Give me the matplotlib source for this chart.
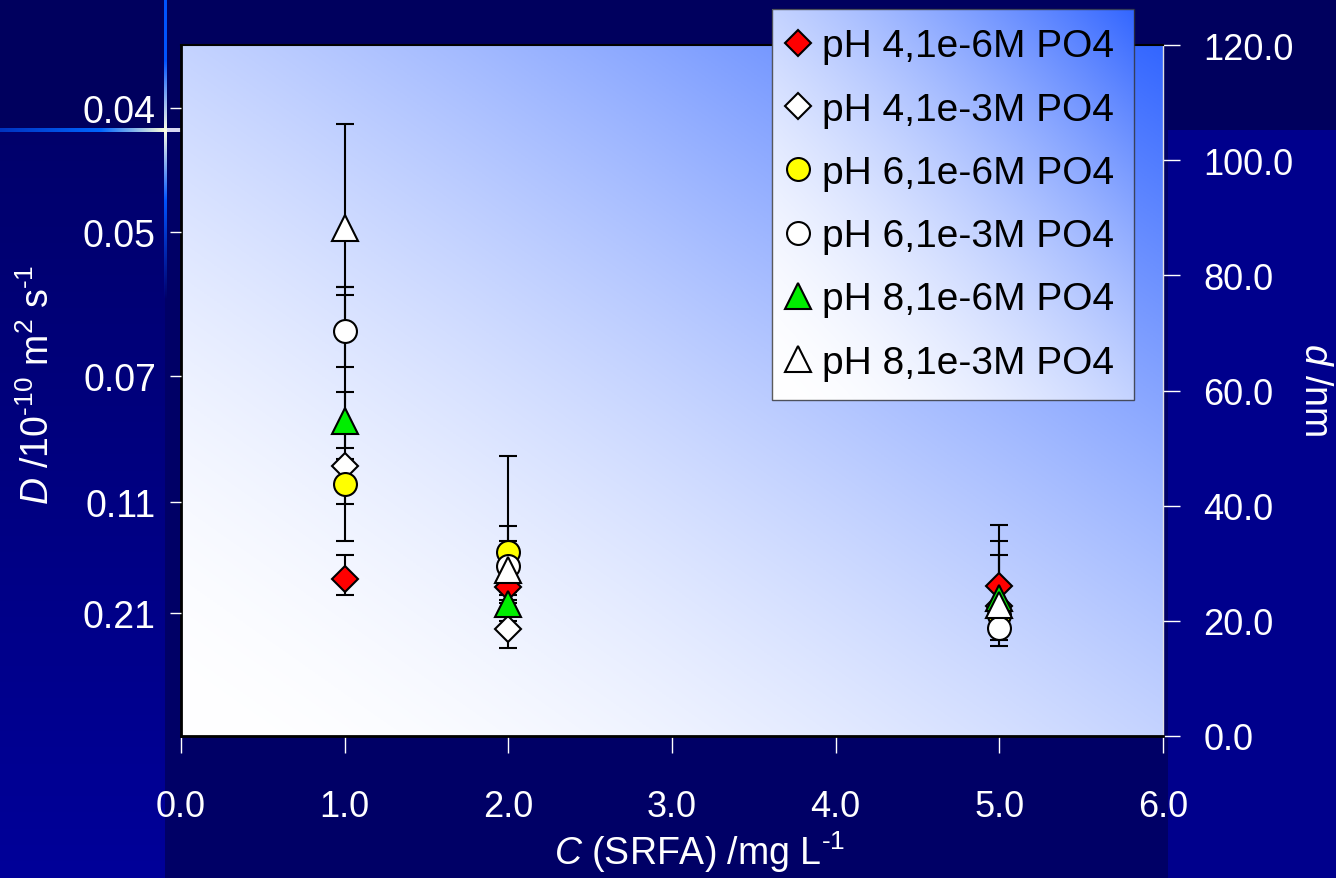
import numpy as np
import matplotlib
matplotlib.use('Agg')
import matplotlib.pyplot as plt
from matplotlib.colors import to_rgb

plt.rcParams['font.family'] = ['Liberation Sans', 'DejaVu Sans']
plt.rcParams['mathtext.fontset'] = 'custom'
plt.rcParams['mathtext.rm'] = 'Liberation Sans'
plt.rcParams['mathtext.it'] = 'Liberation Sans:italic'

# ---- data (d in nm) ----
conc = [1.0, 2.0, 5.0]
labels = ['pH 4,1e-6M PO4', 'pH 4,1e-3M PO4', 'pH 6,1e-6M PO4',
          'pH 6,1e-3M PO4', 'pH 8,1e-6M PO4', 'pH 8,1e-3M PO4']
d_mean = [[27.3, 25.8, 26.0],
          [46.9, 18.5, 22.5],
          [43.8, 31.9, 21.0],
          [70.3, 29.6, 18.7],
          [54.7, 23.0, 24.0],
          [88.3, 28.9, 22.8]]
d_low = [[24.5, 23.1, 22.0],
         [33.8, 15.2, 16.6],
         [40.3, 30.0, 19.0],
         [64.0, 24.5, 15.7],
         [50.1, 21.0, 17.8],
         [77.9, 20.0, 19.5]]
d_high = [[31.4, 29.0, 31.4],
          [76.5, 23.6, 33.8],
          [48.1, 33.8, 23.5],
          [77.9, 36.5, 22.0],
          [59.8, 25.0, 36.6],
          [106.3, 48.7, 26.5]]
x_ticks = [0, 1, 2, 3, 4, 5, 6]
d_ticks = [0, 20, 40, 60, 80, 100, 120]
D_labels = ['0.04', '0.05', '0.07', '0.11', '0.21']
D_tick_pos = [109.1, 87.5, 62.5, 40.6, 21.4]

markers = ['D', 'D', 'o', 'o', '^', '^']
msizes = [13.5, 13.5, 16.5, 16.5, 19, 19]
colors = ['#FF0000', '#FFFFFF', '#FFFF00', '#FFFFFF', '#00EE00', '#FFFFFF']

W, H = 1336, 879
fig = plt.figure(figsize=(W / 100, H / 100), dpi=100)


def gradient(nx=300, ny=300):
    xx, yy = np.meshgrid(np.linspace(0, 1, nx), np.linspace(0, 1, ny))
    t = ((xx + yy) / 2) ** 1.8
    c0 = np.array([1.0, 1.0, 1.0])
    c1 = np.array(to_rgb('#3366FF'))
    return c0 + (c1 - c0) * t[..., None]


# slide background with the little cross ornament
bg = np.zeros((H, W, 3))
bg[..., 2] = 0.40
bg[:131, :, 2] = 0.37
bg[131:, :165, 2] = np.linspace(0.42, 0.60, H - 131)[:, None]
bg[131:, 1168:, 2] = 0.55
for x in range(0, 183):
    if x < 100:
        c = np.array([0, 0.2, 0.75]) + (np.array([0, 0.4, 1.0]) - np.array([0, 0.2, 0.75])) * x / 100
    elif x <= 165:
        f = (x - 100) / 65
        c = np.array([0, 0.4, 1.0]) + (np.array([1, 1, 0.85]) - np.array([0, 0.4, 1.0])) * f
    else:
        c = np.array([0.85, 0.85, 0.95])
    bg[129:133, x] = c
for y in range(0, 300):
    dist = abs(y - 131)
    blue = np.array([0, 0.33, 1.0])
    if dist < 70:
        c = np.array([1, 1, 0.9]) + (blue - np.array([1, 1, 0.9])) * dist / 70
    else:
        c = blue
    a = 1.0 if y < 200 else max(0.0, 1 - (y - 200) / 100)
    bg[y, 164:167] = bg[y, 164:167] * (1 - a) + c * a
bax = fig.add_axes([0, 0, 1, 1], zorder=-10)
bax.imshow(bg, aspect='auto', interpolation='bilinear')
bax.axis('off')

# main axes (d on the right)
ax = fig.add_axes([181 / W, 1 - 737 / H, 982 / W, 691 / H])
ax.imshow(gradient(), extent=[0, 1, 0, 1], transform=ax.transAxes,
          origin='lower', aspect='auto', zorder=0)

for i in range(6):
    lo = np.subtract(d_mean[i], d_low[i])
    hi = np.subtract(d_high[i], d_mean[i])
    ax.errorbar(conc, d_mean[i], yerr=[lo, hi], fmt='none', ecolor='black',
                elinewidth=1.5, capsize=6.8, capthick=1.5, zorder=2)
handles = []
for i in range(6):
    h, = ax.plot(conc, d_mean[i], ls='none', marker=markers[i], ms=msizes[i],
                 mfc=colors[i], mec='black', mew=1.5, zorder=3 + i)
    handles.append(h)

# left axis with D labels (twinx first, it moves the host ticks to the left)
axl = ax.twinx()

ax.set_xlim(0, 6)
ax.set_ylim(0, 120)
ax.set_xticks(x_ticks)
ax.set_xticklabels([f'{v:.1f}' for v in x_ticks])
ax.yaxis.tick_right()
ax.set_yticks(d_ticks)
ax.set_yticklabels([f'{v:.1f}' for v in d_ticks])
ax.tick_params(axis='x', colors='white', direction='out', length=12, width=1,
               pad=26, labelsize=26)
ax.tick_params(axis='y', colors='white', direction='out', length=12, width=1,
               pad=17, labelsize=26)
ax.spines['left'].set_color('black')
ax.spines['left'].set_linewidth(2)
ax.spines['bottom'].set_color('black')
ax.spines['bottom'].set_linewidth(2)
ax.spines['top'].set_color('black')
ax.spines['top'].set_linewidth(1.5)
ax.spines['right'].set_color('#E0E0E0')
ax.spines['right'].set_linewidth(1)

axl.set_ylim(ax.get_ylim())
axl.yaxis.tick_left()
axl.set_yticks(D_tick_pos)
axl.set_yticklabels(D_labels)
axl.tick_params(axis='y', colors='white', direction='out', length=8, width=1,
                pad=10, labelsize=27)
for s in axl.spines.values():
    s.set_visible(False)

# axis titles
fig.text(38 / W, 1 - 385 / H, r'$D$ /10$^{\text{-}10}$ m$^{2}$ s$^{\text{-}1}$', rotation=90,
         ha='center', va='center', color='white', fontsize=27)
fig.text(1315 / W, 1 - 390 / H, r'$d$ /nm', rotation=270,
         ha='center', va='center', color='white', fontsize=27)
fig.text(700 / W, 1 - 852 / H, r'$C$ (SRFA) /mg L$^{\text{-}1}$',
         ha='center', va='center', color='white', fontsize=27)

# legend with gradient box
leg = fig.legend(handles, labels, loc='upper left',
                 bbox_to_anchor=(772 / W, 1 - 10 / H), borderaxespad=0,
                 fontsize=28, frameon=True, fancybox=False, edgecolor='#333333',
                 borderpad=0.5, handlelength=0.35, handletextpad=0.44,
                 labelspacing=0.7, markerscale=1.0)
leg.get_frame().set_facecolor('none')
leg.get_frame().set_linewidth(1.0)
fig.canvas.draw()
bb = leg.get_window_extent().transformed(fig.transFigure.inverted())
gax = fig.add_axes(bb.bounds, zorder=1)
gax.imshow(gradient(), origin='lower', aspect='auto', extent=[0, 1, 0, 1])
gax.axis('off')

fig.savefig('out.png', dpi=100)
